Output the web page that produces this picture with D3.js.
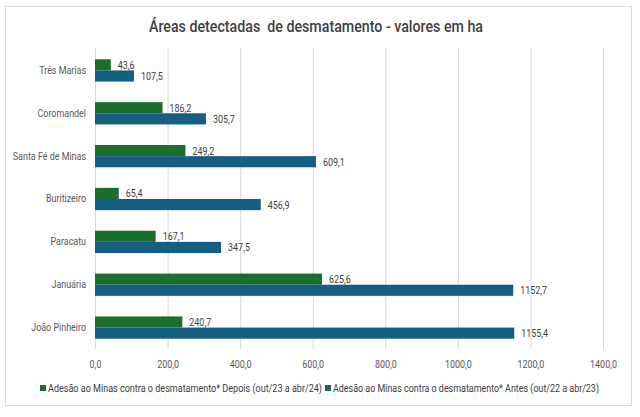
<!DOCTYPE html>
<html><head><meta charset="utf-8">
<script src="https://cdn.jsdelivr.net/npm/d3@7"></script>
<style>body{margin:0;background:#fff}svg{display:block}</style>
</head><body>
<svg id="c" width="640" height="417"></svg>
<script>
const categories = ["Três Marias","Coromandel","Santa Fé de Minas","Buritizeiro","Paracatu","Januária","João Pinheiro"];
const depois = [43.6,186.2,249.2,65.4,167.1,625.6,240.7];
const antes = [107.5,305.7,609.1,456.9,347.5,1152.7,1155.4];
const ticks = [0,200,400,600,800,1000,1200,1400];
const seriesNames = ["Adesão ao Minas contra o desmatamento* Depois (out/23 a abr/24)","Adesão ao Minas contra o desmatamento* Antes (out/22 a abr/23)"];
const title = "Áreas detectadas  de desmatamento - valores em ha";

const font = "Roboto,'Noto Sans',sans-serif";
const svg = d3.select("#c");
function condense(sel, k){
  sel.each(function(){
    const w = this.getComputedTextLength();
    d3.select(this).attr("textLength", w*k).attr("lengthAdjust","spacingAndGlyphs");
  });
}
svg.append("rect").attr("x",5.5).attr("y",6.5).attr("width",626).attr("height",399)
  .attr("fill","#fff").attr("stroke","#d9d9d9");
const t = svg.append("text").attr("x",316).attr("y",32).attr("text-anchor","middle")
  .attr("font-family",font).attr("font-size",16).attr("font-weight","500").attr("fill","#404040")
  .style("white-space","pre").text(title);
t.attr("textLength",334).attr("lengthAdjust","spacingAndGlyphs");

const x = d3.scaleLinear().domain([0,1400]).range([95,603]);
const y = d3.scaleBand().domain(categories).range([49,349]).paddingInner(0.48).paddingOuter(0.24);
const fmt = v => d3.format(".1f")(v).replace(".",",");

const g = svg.append("g");
g.selectAll("line.grid").data(ticks).enter().append("line")
  .attr("x1",d=>x(d)+0.5).attr("x2",d=>x(d)+0.5).attr("y1",48).attr("y2",349)
  .attr("stroke","#d9d9d9");

const colors = ["#1b6e2c","#155f82"];
[depois,antes].forEach((arr,si)=>{
  g.selectAll("rect.s"+si).data(categories).enter().append("rect")
    .attr("x",x(0)).attr("y",d=>y(d)+si*y.bandwidth()/2)
    .attr("width",(d,i)=>x(arr[i])-x(0)).attr("height",y.bandwidth()/2)
    .attr("fill",colors[si]);
  const lt = g.selectAll("text.l"+si).data(categories).enter().append("text")
    .attr("x",(d,i)=>x(arr[i])+7).attr("y",d=>y(d)+si*y.bandwidth()/2+y.bandwidth()/4+4)
    .attr("font-family",font).attr("font-size",10.5).attr("fill","#404040")
    .text((d,i)=>fmt(arr[i]));
  condense(lt,0.85);
});

const ax = d3.axisBottom(x).tickValues(ticks).tickFormat(fmt).tickSize(0).tickPadding(8);
const axg = svg.append("g").attr("transform","translate(0,353)").call(ax);
axg.select(".domain").remove();
axg.selectAll("text").attr("font-family",font).attr("font-size",10.5).attr("fill","#595959");
condense(axg.selectAll("text"),0.85);

const ay = d3.axisLeft(y).tickSize(0).tickPadding(9);
const ayg = svg.append("g").attr("transform","translate(95,0)").call(ay);
ayg.select(".domain").remove();
ayg.selectAll("text").attr("font-family",font).attr("font-size",10.5).attr("fill","#595959");
condense(ayg.selectAll("text"),0.85);

const leg = svg.append("g");
const lx = [40,325];
const lw = [274,266];
seriesNames.forEach((n,i)=>{
  leg.append("rect").attr("x",lx[i]).attr("y",385).attr("width",6).attr("height",6).attr("fill",colors[i]);
  leg.append("text").attr("x",lx[i]+8).attr("y",391.5).attr("font-family",font).attr("font-size",10)
    .attr("fill","#404040").attr("textLength",lw[i]).attr("lengthAdjust","spacingAndGlyphs").text(n);
});
</script>
</body></html>
